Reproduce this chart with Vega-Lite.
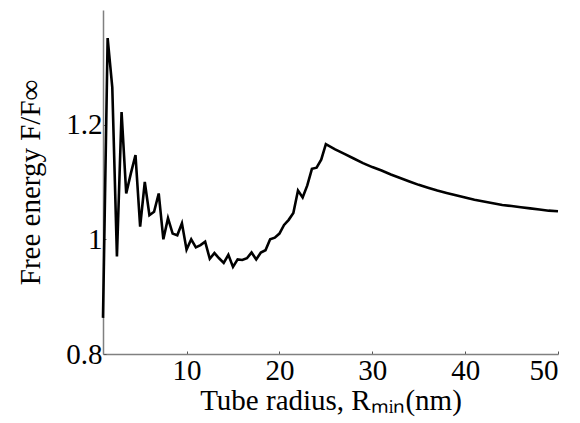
{
  "$schema": "https://vega.github.io/schema/vega-lite/v6.json",
  "width": 455,
  "height": 344,
  "autosize": {"type": "none"},
  "padding": {"left": 103, "top": 10, "right": 22, "bottom": 69},
  "background": "white",
  "config": {
    "view": {"stroke": null},
    "font": "Liberation Serif",
    "axis": {
      "labelFont": "Liberation Serif",
      "titleFont": "Liberation Serif",
      "labelFontSize": 29,
      "titleFontSize": 29,
      "titleFontWeight": "normal",
      "labelColor": "black",
      "titleColor": "black",
      "domainColor": "#808080",
      "domainWidth": 1.5,
      "tickColor": "#555555",
      "tickSize": -3,
      "grid": false
    }
  },
  "data": {
    "values": [
      {"r": 1.0, "f": 0.863},
      {"r": 1.5, "f": 1.351},
      {"r": 2.0, "f": 1.265},
      {"r": 2.5, "f": 0.97},
      {"r": 3.0, "f": 1.222},
      {"r": 3.5, "f": 1.08},
      {"r": 4.0, "f": 1.115},
      {"r": 4.5, "f": 1.147},
      {"r": 5.0, "f": 1.022},
      {"r": 5.5, "f": 1.1},
      {"r": 6.0, "f": 1.042},
      {"r": 6.5, "f": 1.048},
      {"r": 7.0, "f": 1.08},
      {"r": 7.5, "f": 1.0},
      {"r": 8.0, "f": 1.037},
      {"r": 8.5, "f": 1.01},
      {"r": 9.0, "f": 1.007},
      {"r": 9.5, "f": 1.028},
      {"r": 10.0, "f": 0.982},
      {"r": 10.5, "f": 1.0},
      {"r": 11.0, "f": 0.986},
      {"r": 11.5, "f": 0.99},
      {"r": 12.0, "f": 0.996},
      {"r": 12.5, "f": 0.966},
      {"r": 13.0, "f": 0.976},
      {"r": 13.5, "f": 0.967},
      {"r": 14.0, "f": 0.959},
      {"r": 14.5, "f": 0.973},
      {"r": 15.0, "f": 0.952},
      {"r": 15.5, "f": 0.965},
      {"r": 16.0, "f": 0.964},
      {"r": 16.5, "f": 0.967},
      {"r": 17.0, "f": 0.977},
      {"r": 17.5, "f": 0.965},
      {"r": 18.0, "f": 0.977},
      {"r": 18.5, "f": 0.981},
      {"r": 19.0, "f": 1.0},
      {"r": 19.5, "f": 1.003},
      {"r": 20.0, "f": 1.01},
      {"r": 20.5, "f": 1.025},
      {"r": 21.0, "f": 1.034},
      {"r": 21.5, "f": 1.046},
      {"r": 22.0, "f": 1.085},
      {"r": 22.5, "f": 1.073},
      {"r": 23.0, "f": 1.094},
      {"r": 23.5, "f": 1.123},
      {"r": 24.0, "f": 1.125},
      {"r": 24.5, "f": 1.139},
      {"r": 25.0, "f": 1.166},
      {"r": 26.0, "f": 1.157},
      {"r": 27.0, "f": 1.149},
      {"r": 28.0, "f": 1.141},
      {"r": 29.0, "f": 1.133},
      {"r": 30.0, "f": 1.126},
      {"r": 31.0, "f": 1.12},
      {"r": 32.0, "f": 1.113},
      {"r": 33.0, "f": 1.107},
      {"r": 34.0, "f": 1.101},
      {"r": 35.0, "f": 1.095},
      {"r": 36.0, "f": 1.09},
      {"r": 37.0, "f": 1.085},
      {"r": 38.0, "f": 1.081},
      {"r": 39.0, "f": 1.077},
      {"r": 40.0, "f": 1.073},
      {"r": 41.0, "f": 1.069},
      {"r": 42.0, "f": 1.066},
      {"r": 43.0, "f": 1.063},
      {"r": 44.0, "f": 1.06},
      {"r": 45.0, "f": 1.058},
      {"r": 46.0, "f": 1.056},
      {"r": 47.0, "f": 1.054},
      {"r": 48.0, "f": 1.052},
      {"r": 49.0, "f": 1.05},
      {"r": 50.0, "f": 1.049}
    ]
  },
  "mark": {"type": "line", "color": "black", "strokeWidth": 2.6, "strokeJoin": "miter"},
  "encoding": {
    "x": {
      "field": "r",
      "type": "quantitative",
      "scale": {"domain": [1, 50], "nice": false, "zero": false},
      "axis": {"values": [10, 20, 30, 40, 50], "title": "Tube radius, Rₘᵢₙ(nm)", "labelPadding": 5, "titlePadding": 1}
    },
    "y": {
      "field": "f",
      "type": "quantitative",
      "scale": {"domain": [0.8, 1.4], "nice": false, "zero": false},
      "axis": {"values": [0.8, 1, 1.2], "format": "~g", "title": "Free energy F/F∞", "labelPadding": 4, "titlePadding": 20}
    }
  }
}
